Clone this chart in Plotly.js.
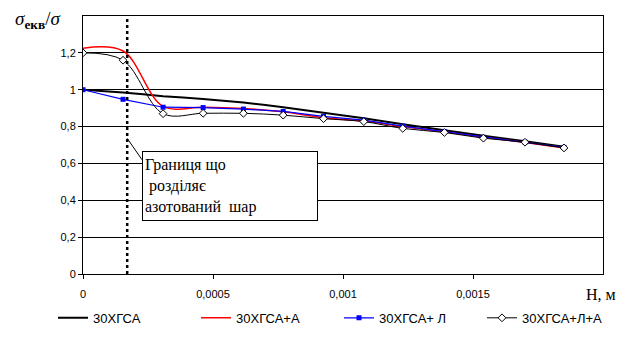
<!DOCTYPE html>
<html>
<head>
<meta charset="utf-8">
<script src="https://cdn.plot.ly/plotly-3.0.1.min.js"></script>
<style>html,body{margin:0;padding:0;background:#fff;}#chart{width:625px;height:345px;}</style>
</head>
<body>
<div id="chart"></div>
<script>
// Depth H, m (sampling points of the series)
const depthH = [0, 0.000154, 0.000308, 0.000462, 0.000617, 0.00077, 0.000925, 0.00108, 0.00123, 0.00139, 0.00154, 0.0017, 0.00185];
// σекв/σ for each material
const steelBase   = [1.0, 0.985, 0.965, 0.95, 0.93, 0.905, 0.875, 0.845, 0.812, 0.78, 0.75, 0.72, 0.69];   // 30ХГСА
const steelN      = [1.225, 1.21, 0.91, 0.905, 0.898, 0.88, 0.848, 0.83, 0.80, 0.772, 0.742, 0.714, 0.685]; // 30ХГСА+А
const steelL      = [1.0, 0.948, 0.905, 0.903, 0.895, 0.882, 0.855, 0.835, 0.802, 0.772, 0.742, 0.716, 0.687]; // 30ХГСА+ Л
const steelLN     = [1.2, 1.16, 0.87, 0.872, 0.872, 0.862, 0.843, 0.827, 0.79, 0.768, 0.737, 0.715, 0.684]; // 30ХГСА+Л+А
const seriesNames = ['30ХГСА', '30ХГСА+А', '30ХГСА+ Л', '30ХГСА+Л+А'];
// Layer boundary depth
const boundaryH = 0.00017;
// Axis ticks
const xTickVals = [0, 0.0005, 0.001, 0.0015];
const xTickText = ['0', '0,0005', '0,001', '0,0015'];
const yTickVals = [0, 0.2, 0.4, 0.6, 0.8, 1.0, 1.2];
const yTickText = ['0', '0,2', '0,4', '0,6', '0,8', '1', '1,2'];
const boxText = 'Границя що<br> розділяє<br>азотований  шар';

const traces = [
  {x: depthH, y: steelBase, name: seriesNames[0], mode: 'lines',
   line: {color: '#000000', width: 2, shape: 'spline', smoothing: 0.6}},
  {x: depthH, y: steelN, name: seriesNames[1], mode: 'lines',
   line: {color: '#ff0000', width: 1.5, shape: 'spline', smoothing: 1}},
  {x: depthH, y: steelL, name: seriesNames[2], mode: 'lines+markers',
   line: {color: '#0000ff', width: 1.2},
   marker: {symbol: 'square', size: 5, color: '#0000ff'}},
  {x: depthH, y: steelLN, name: seriesNames[3], mode: 'lines+markers',
   line: {color: '#000000', width: 1, shape: 'spline', smoothing: 1},
   marker: {symbol: 'diamond', size: 6, color: '#ffffff', line: {color: '#000000', width: 1}}}
];

const layout = {
  width: 625, height: 345,
  margin: {l: 83, r: 22, t: 16, b: 67},
  paper_bgcolor: '#ffffff', plot_bgcolor: '#ffffff',
  separators: ', ',
  font: {family: 'Liberation Sans, Arial, sans-serif', size: 11, color: '#000000'},
  xaxis: {
    range: [0, 0.002], tickvals: xTickVals, ticktext: xTickText,
    showgrid: false, zeroline: false, showline: true, mirror: true,
    linecolor: '#000000', linewidth: 1, ticks: 'outside', ticklen: 4, tickcolor: '#000000',
    ticklabelstandoff: 6, tickfont: {size: 11}
  },
  yaxis: {
    range: [0, 1.4], tickvals: yTickVals, ticktext: yTickText,
    showgrid: true, gridcolor: '#000000', gridwidth: 1, zeroline: false,
    showline: true, mirror: true, linecolor: '#000000', linewidth: 1,
    ticks: 'outside', ticklen: 4, tickcolor: '#000000', tickfont: {size: 11}
  },
  showlegend: true,
  legend: {orientation: 'h', x: -0.012, xanchor: 'left', y: -0.17, yanchor: 'middle',
           font: {size: 13, color: '#000000'}, bgcolor: 'rgba(0,0,0,0)', itemwidth: 30,
           entrywidth: 98, entrywidthmode: 'pixels', tracegroupgap: 0},
  shapes: [
    {type: 'line', xref: 'x', yref: 'paper', x0: boundaryH, x1: boundaryH, y0: 0, y1: 1,
     line: {color: '#000000', width: 2.5, dash: 'dot'}},
    {type: 'line', xref: 'x', yref: 'y', x0: boundaryH, y0: 0.736, x1: 0.000227, y1: 0.62,
     line: {color: '#000000', width: 1}}
  ],
  annotations: [
    {text: boxText, xref: 'x', yref: 'y', x: 0.000227, y: 0.667, xanchor: 'left', yanchor: 'top',
     showarrow: false, align: 'left', width: 170, height: 64, valign: 'middle',
     bgcolor: '#ffffff', bordercolor: '#000000', borderwidth: 1, borderpad: 2,
     font: {family: 'Liberation Serif, Times New Roman, serif', size: 16, color: '#000000'}},
    {text: '<i>σ</i><sub><b>екв</b></sub>/<i>σ</i>', xref: 'paper', yref: 'paper', x: 15, y: 0,
     xanchor: 'left', yanchor: 'middle', showarrow: false,
     font: {family: 'Liberation Serif, Times New Roman, serif', size: 19, color: '#000000'}},
    {text: 'H, м', xref: 'paper', yref: 'paper', x: 1, y: 0, xanchor: 'center', yanchor: 'middle',
     showarrow: false, font: {family: 'Liberation Serif, Times New Roman, serif', size: 16, color: '#000000'}}
  ]
};
// place the axis title annotations in pixel terms relative to the plot area
const plotW = 625 - 83 - 22, plotH = 345 - 16 - 67;
layout.annotations[1].x = (13 - 83) / plotW;
layout.annotations[1].y = (278 - 20) / plotH;
layout.annotations[2].x = (601 - 83) / plotW;
layout.annotations[2].y = (278 - 299) / plotH;

Plotly.newPlot('chart', traces, layout, {displayModeBar: false, staticPlot: true});
</script>
</body>
</html>
